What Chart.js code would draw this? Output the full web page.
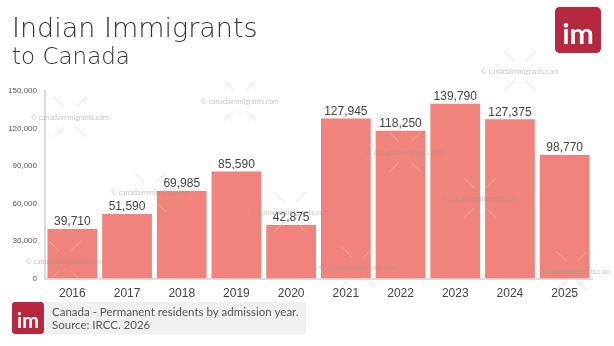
<!DOCTYPE html>
<html>
<head>
<meta charset="utf-8">
<script src="https://cdn.jsdelivr.net/npm/chart.js@4/dist/chart.umd.min.js"></script>
<style>
  html, body { margin: 0; padding: 0; background: #fff; }
  #wrap { position: relative; width: 614px; height: 346px; }
</style>
</head>
<body>
<div id="wrap"><canvas id="c" width="614" height="346"></canvas></div>
<script>
// ── data ─────────────────────────────────────────────────────────────────────
const YEARS = ['2016', '2017', '2018', '2019', '2020', '2021', '2022', '2023', '2024', '2025'];
const IMMIGRANTS = [39710, 51590, 69985, 85590, 42875, 127945, 118250, 139790, 127375, 98770];
const Y_TICKS = [0, 30000, 60000, 90000, 120000, 150000];

const FONT = "'Lato', 'Open Sans', sans-serif";
const NUM = "'Liberation Sans', Arial, sans-serif";
const TITLE = "'DejaVu Sans', 'Lato', sans-serif";
const BAR = '#f0847c', TEXT = '#444', MUTED = '#555', LINE = '#dcdcdc', BRAND = '#b5283f';
const fmt = v => v.toLocaleString('en-US');

// Titles, value labels, footer and faint watermarks.
const decor = {
  id: 'decor',
  afterDatasetsDraw(chart) {
    const { ctx, scales: { x, y } } = chart;
    ctx.save();
    // value labels above bars
    ctx.fillStyle = TEXT;
    ctx.font = `12px ${NUM}`;
    ctx.textAlign = 'center'; ctx.textBaseline = 'bottom';
    IMMIGRANTS.forEach((v, i) => ctx.fillText(fmt(v), x.getPixelForValue(i), y.getPixelForValue(v) - 1));

    // watermarks
    const marks = [[70, 117], [240, 101], [520, 71], [150, 192], [290, 212], [405, 152], [480, 198], [65, 261], [358, 267], [572, 271]];
    ctx.font = `7px ${FONT}`;
    ctx.fillStyle = 'rgba(150,150,150,0.55)';
    ctx.strokeStyle = 'rgba(200,200,200,0.5)';
    ctx.lineWidth = 1;
    ctx.textBaseline = 'alphabetic';
    marks.forEach(([mx, my]) => {
      ctx.fillText('© canadaimmigrants.com', mx, my + 3);
      ctx.beginPath();
      ctx.moveTo(mx - 16, my - 20); ctx.lineTo(mx - 6, my - 10);
      ctx.moveTo(mx + 16, my - 20); ctx.lineTo(mx + 6, my - 10);
      ctx.moveTo(mx - 16, my + 20); ctx.lineTo(mx - 6, my + 10);
      ctx.moveTo(mx + 16, my + 20); ctx.lineTo(mx + 6, my + 10);
      ctx.stroke();
    });

    // title
    ctx.textAlign = 'left';
    ctx.fillStyle = '#333';
    ctx.font = `200 27px ${TITLE}`;
    ctx.fillText('Indian Immigrants', 12, 37);
    ctx.font = `200 23px ${TITLE}`;
    ctx.fillText('to Canada', 12, 64);

    // logos
    const logo = (lx, ly, s) => {
      ctx.fillStyle = BRAND;
      ctx.beginPath(); ctx.roundRect(lx, ly, s, s, s * 0.1); ctx.fill();
      ctx.fillStyle = '#fff';
      ctx.font = `bold ${Math.round(s * 0.62)}px ${FONT}`;
      ctx.textAlign = 'center';
      ctx.fillText('im', lx + s / 2, ly + s * 0.8);
    };
    logo(555, 7, 46);
    logo(12, 302, 32);

    // footer box
    ctx.fillStyle = '#f0f0f0';
    ctx.fillRect(45, 302, 261, 32);
    ctx.fillStyle = MUTED;
    ctx.font = `11.5px ${FONT}`;
    ctx.textAlign = 'left';
    ctx.fillText('Canada - Permanent residents by admission year.', 52, 316);
    ctx.fillText('Source: IRCC. 2026', 52, 329);
    ctx.restore();
  },
};

new Chart(document.getElementById('c'), {
  type: 'bar',
  data: {
    labels: YEARS,
    datasets: [{
      data: IMMIGRANTS,
      backgroundColor: BAR,
      borderWidth: 0,
      categoryPercentage: 1,
      barPercentage: 0.91,
    }],
  },
  options: {
    responsive: false, animation: false,
    layout: { padding: { top: 91, right: 22, bottom: 37, left: 0 } },
    plugins: { legend: { display: false }, tooltip: { enabled: false } },
    scales: {
      x: {
        grid: { display: false, drawTicks: false },
        border: { color: LINE, width: 2 },
        ticks: { color: TEXT, font: { family: NUM, size: 12 }, padding: 8, maxRotation: 0 },
      },
      y: {
        min: 0, max: 150000,
        afterBuildTicks: ax => { ax.ticks = Y_TICKS.map(v => ({ value: v })); },
        afterFit: ax => { ax.width = 45; },
        grid: { display: false, drawTicks: false },
        border: { color: LINE, width: 2 },
        ticks: { color: MUTED, font: { family: NUM, size: 8 }, padding: 8, callback: v => fmt(v) },
      },
    },
  },
  plugins: [decor],
});
</script>
</body>
</html>
